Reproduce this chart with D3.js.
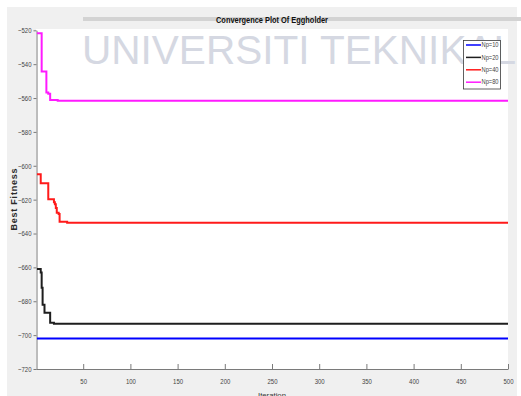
<!DOCTYPE html>
<html>
<head>
<meta charset="utf-8">
<script src="https://cdn.jsdelivr.net/npm/d3@7"></script>
<style>
  html, body { margin: 0; padding: 0; background: #ffffff; }
  svg { display: block; }
  text { font-family: "Liberation Sans", Arial, sans-serif; }
</style>
</head>
<body>
<svg id="chart" width="521" height="396"></svg>
<script>
// Convergence history (iteration, best fitness) — values held until the next change
const iterationsEnd = 500;
const np10 = [[1, -702], [500, -702]];
const np20 = [[1, -661], [5, -663], [6, -672], [7, -682], [9, -686.8], [15, -692.7], [19, -693.3], [500, -693.3]];
const np40 = [[1, -605], [5, -610.3], [13, -619.8], [19, -621.5], [20, -622.7], [21, -625], [22, -627.7], [24, -628.5], [25, -633], [33, -633.6], [500, -633.6]];
const np80 = [[1, -521.8], [6, -544.4], [11, -556.7], [13, -557.5], [15, -561.2], [23, -561.6], [500, -561.6]];

const seriesNames = ["Np=10", "Np=20", "Np=40", "Np=80"];
const seriesColors = ["#0000ff", "#1e1e1e", "#ff1a1a", "#ff1aff"];
const seriesData = [np10, np20, np40, np80];

const xTicks = [50, 100, 150, 200, 250, 300, 350, 400, 450, 500];
const yTicks = [-520, -540, -560, -580, -600, -620, -640, -660, -680, -700, -720];

const titleText = "Convergence Plot Of Eggholder";
const xLabel = "Iteration";
const yLabel = "Best Fitness";
const watermark = "UNIVERSITI TEKNIKAL";

const svg = d3.select("#chart");
const W = 521, H = 396;
const plot = { left: 36, right: 508, top: 29, bottom: 369 };

const x = d3.scaleLinear().domain([0, iterationsEnd]).range([plot.left, plot.right]);
const y = d3.scaleLinear().domain([-720, -520]).range([plot.bottom, 30.3]);

// figure background
svg.append("rect").attr("x", 0).attr("y", 0).attr("width", W).attr("height", H).attr("fill", "#ffffff");
svg.append("rect").attr("x", 7).attr("y", 7).attr("width", 510).attr("height", H - 7).attr("fill", "#f0f0f0");

// header band behind the title
svg.append("rect").attr("x", 83).attr("y", 17).attr("width", W - 83).attr("height", 4).attr("fill", "#d3d3d3");

// axes area
svg.append("rect")
  .attr("x", plot.left).attr("y", plot.top)
  .attr("width", plot.right - plot.left).attr("height", plot.bottom - plot.top)
  .attr("fill", "#ffffff");

// faint watermark lettering
svg.append("text")
  .attr("x", 82).attr("y", 63.5)
  .attr("font-size", 40)
  .attr("fill", "#d5d8e2")
  .attr("textLength", 434)
  .attr("lengthAdjust", "spacingAndGlyphs")
  .text(watermark);

// title
svg.append("text")
  .attr("x", 272).attr("y", 23)
  .attr("text-anchor", "middle")
  .attr("font-size", 8.5).attr("font-weight", "bold")
  .attr("fill", "#111")
  .attr("textLength", 112).attr("lengthAdjust", "spacingAndGlyphs")
  .text(titleText);

// condense tick label glyphs horizontally
function narrowTicks(sel, sx) {
  sel.selectAll(".tick text").each(function () {
    const t = d3.select(this);
    const tx = +t.attr("x") || 0;
    t.attr("x", 0).attr("transform", `translate(${tx},0) scale(${sx},1)`);
  });
}

// x axis
const gx = svg.append("g")
  .attr("transform", `translate(0,${plot.bottom})`)
  .call(d3.axisBottom(x).tickValues(xTicks).tickSize(-5).tickPadding(10).tickSizeOuter(0));
gx.select(".domain").attr("stroke", "#7a7a7a");
gx.selectAll(".tick line").attr("stroke", "#7a7a7a");
gx.selectAll(".tick text").attr("font-size", 7.5).attr("fill", "#444").attr("font-family", "Liberation Sans, Arial, sans-serif");
narrowTicks(gx, 0.8);

// y axis
const gy = svg.append("g")
  .attr("transform", `translate(${plot.left + 0.5},0)`)
  .call(d3.axisLeft(y).tickValues(yTicks).tickSize(3).tickPadding(2).tickSizeOuter(0));
gy.select(".domain").attr("stroke", "#7a7a7a");
gy.selectAll(".tick line").attr("stroke", "#7a7a7a");
gy.selectAll(".tick text").attr("font-size", 7.5).attr("fill", "#444").attr("font-family", "Liberation Sans, Arial, sans-serif");
narrowTicks(gy, 0.8);

// axis labels
svg.append("text")
  .attr("x", 272).attr("y", 397.5)
  .attr("text-anchor", "middle")
  .attr("font-size", 7.5).attr("fill", "#333")
  .attr("textLength", 28).attr("lengthAdjust", "spacingAndGlyphs")
  .text(xLabel);

svg.append("text")
  .attr("transform", `translate(16.5,199.5) rotate(-90)`)
  .attr("text-anchor", "middle")
  .attr("font-size", 9).attr("font-weight", "bold").attr("fill", "#2a2a2a")
  .attr("textLength", 62).attr("lengthAdjust", "spacing")
  .text(yLabel);

// convergence lines
svg.append("clipPath").attr("id", "plotclip")
  .append("rect")
  .attr("x", plot.left).attr("y", plot.top)
  .attr("width", plot.right - plot.left).attr("height", plot.bottom - plot.top);

const line = d3.line()
  .x(d => x(d[0]))
  .y(d => y(d[1]))
  .curve(d3.curveStepAfter);

svg.append("g").attr("clip-path", "url(#plotclip)")
  .selectAll("path")
  .data(seriesData)
  .join("path")
  .attr("d", line)
  .attr("fill", "none")
  .attr("stroke", (d, i) => seriesColors[i])
  .attr("stroke-width", 2);

// legend
const lg = svg.append("g");
lg.append("rect")
  .attr("x", 463.5).attr("y", 40.5).attr("width", 37).attr("height", 48.5)
  .attr("fill", "#ffffff").attr("stroke", "#3a3a3a").attr("stroke-width", 0.8);
const rows = lg.selectAll("g.row")
  .data(seriesNames)
  .join("g")
  .attr("class", "row")
  .attr("transform", (d, i) => `translate(0,${45 + i * 12.4})`);
rows.append("line")
  .attr("x1", 466).attr("x2", 481).attr("y1", 0).attr("y2", 0)
  .attr("stroke", (d, i) => seriesColors[i]).attr("stroke-width", 1.5);
rows.append("text")
  .attr("x", 481.5).attr("y", 2.2)
  .attr("font-size", 6.5).attr("fill", "#444")
  .attr("textLength", 17).attr("lengthAdjust", "spacingAndGlyphs")
  .text(d => d);
</script>
</body>
</html>
